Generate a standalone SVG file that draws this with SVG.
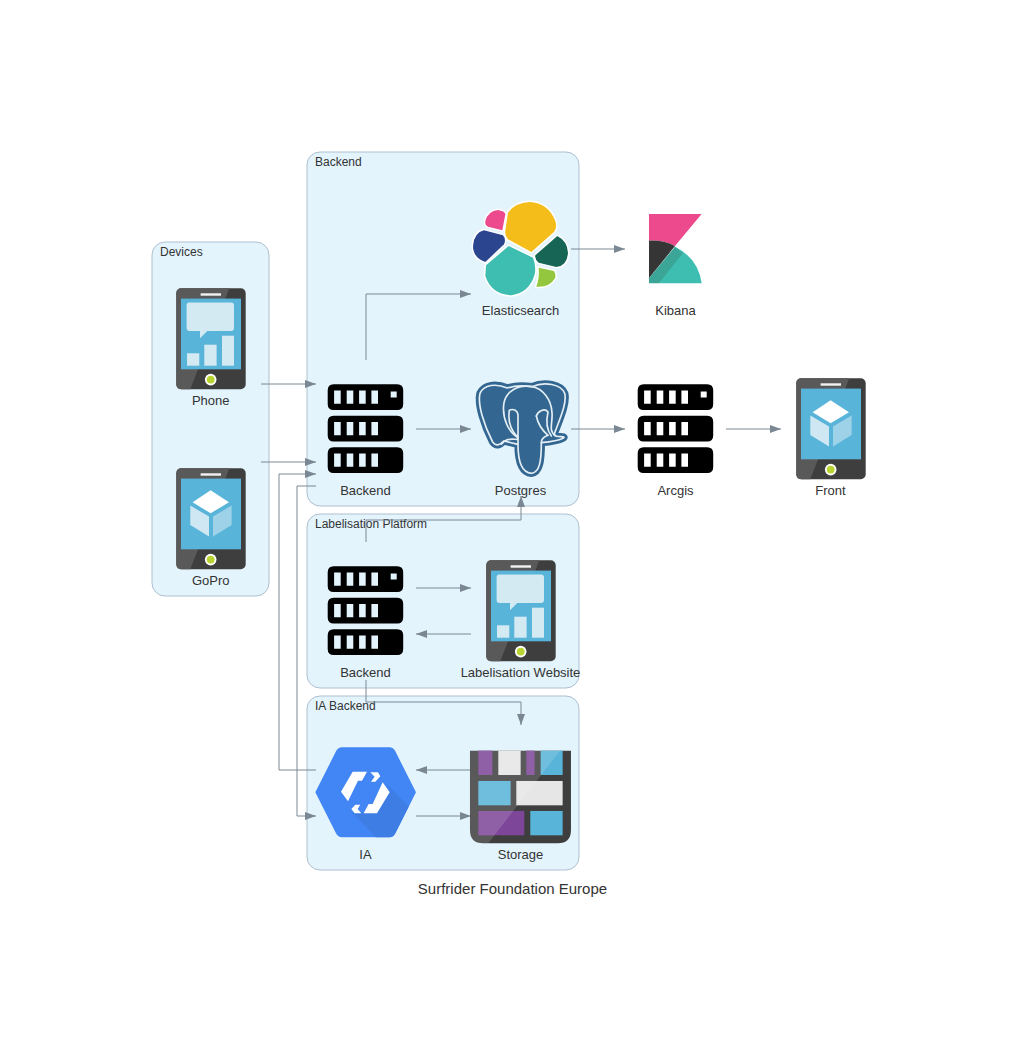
<svg xmlns="http://www.w3.org/2000/svg" width="1025" height="1045" viewBox="0 0 1025 1045">
<style>
text{font-family:"Liberation Sans",Arial,sans-serif;fill:#333}
.lbl{font-size:13px;text-anchor:middle}
.cl{font-size:12px}
.cluster{fill:#e3f4fd;stroke:#aebfcf;stroke-width:1}
.edge{fill:none;stroke:#7b8894;stroke-width:1;marker-end:url(#arrow)}
</style>
<defs>
<marker id="arrow" markerUnits="userSpaceOnUse" markerWidth="11" markerHeight="8" refX="11" refY="4" orient="auto"><path d="M0 0L11 4L0 8Z" fill="#7b8894"/></marker>
<g id="server" fill="#000" fill-rule="evenodd">
<path d="M6 0H69.5Q75.5 0 75.5 6V19.7Q75.5 25.7 69.5 25.7H6Q0 25.7 0 19.7V6Q0 0 6 0ZM6.4 6.3V19.5H13V6.3ZM19 6.3V19.5H25.6V6.3ZM31.4 6.3V19.5H38V6.3ZM43.7 6.3V19.5H50.3V6.3ZM63 7.3V13.3H69V7.3Z"/>
<path d="M6 31.5H69.5Q75.5 31.5 75.5 37.5V51.2Q75.5 57.2 69.5 57.2H6Q0 57.2 0 51.2V37.5Q0 31.5 6 31.5ZM6.4 37.8V51H13V37.8ZM19 37.8V51H25.6V37.8ZM31.4 37.8V51H38V37.8ZM43.7 37.8V51H50.3V37.8Z"/>
<path d="M6 63H69.5Q75.5 63 75.5 69V82.7Q75.5 88.7 69.5 88.7H6Q0 88.7 0 82.7V69Q0 63 6 63ZM6.4 69.3V82.5H13V69.3ZM19 69.3V82.5H25.6V69.3ZM31.4 69.3V82.5H38V69.3ZM43.7 69.3V82.5H50.3V69.3Z"/>
</g>
<g id="phone"><rect width="69.4" height="101" rx="5" fill="#3e3e3e"/><path d="M5 0H53L14 101H5Q0 101 0 96V5Q0 0 5 0Z" fill="#595959"/><rect x="4.7" y="10.3" width="60" height="70.7" fill="#59b4d9"/><rect x="24.3" y="5" width="20.4" height="2.4" fill="#f2f2f2"/><circle cx="34.4" cy="91.3" r="5.8" fill="#fff"/><circle cx="34.4" cy="91.3" r="3.9" fill="#b8d432"/></g>
<g id="chart" fill="#d4eaf3"><path d="M13 14.3H54.7Q57.7 14.3 57.7 17.3V39.7Q57.7 42.7 54.7 42.7H31L23.7 50V42.7H13.3Q10.3 42.7 10.3 39.7V17.3Q10.3 14.3 13 14.3Z"/><rect x="10.7" y="65" width="12.3" height="12.4"/><rect x="28" y="56.4" width="12.3" height="21"/><rect x="45.7" y="47.4" width="12" height="30"/></g>
<g id="cube"><path d="M16.3 34L34.3 22L52.7 34L34.3 45Z" fill="#fff"/><path d="M14 37.3L32.7 48.3V68.3L14 56.7Z" fill="#cfe7f2"/><path d="M36.7 48.3L55.3 37.3V56.7L36.7 68.3Z" fill="#9ed2e8"/></g>
</defs>

<g id="clusters">
<rect id="cluster-backend" class="cluster" x="307" y="152" width="272" height="354" rx="13"/>
<rect id="cluster-devices" class="cluster" x="152" y="242" width="117" height="354" rx="13"/>
<rect id="cluster-labelisation" class="cluster" x="307" y="514" width="272" height="174" rx="13"/>
<rect id="cluster-ia" class="cluster" x="307" y="696" width="272" height="174" rx="13"/>
<text class="cl" x="315" y="166">Backend</text>
<text class="cl" x="160" y="256">Devices</text>
<text class="cl" x="315" y="528">Labelisation Platform</text>
<text class="cl" x="315" y="710">IA Backend</text>
</g>

<g id="connectors">
<path class="edge" d="M261 384H316"/>
<path class="edge" d="M261 462H316"/>
<path class="edge" d="M316 770H279V474H316"/>
<path class="edge" d="M316 486H297V816H316"/>
<path class="edge" d="M366 360V294H471"/>
<path class="edge" d="M571 249H625"/>
<path class="edge" d="M416 429H471"/>
<path class="edge" d="M571 429H625"/>
<path class="edge" d="M726 429H781"/>
<path class="edge" d="M366 542V520H521V496"/>
<path class="edge" d="M416 588H471"/>
<path class="edge" d="M471 634H416"/>
<path class="edge" d="M366 680V702H521V725"/>
<path class="edge" d="M470 770H416"/>
<path class="edge" d="M416 816H471"/>
</g>

<g id="node-phone"><g transform="translate(176.3 288.3)"><use href="#phone"/><use href="#chart"/></g><text class="lbl" x="210.7" y="405">Phone</text></g>
<g id="node-gopro"><g transform="translate(176.3 468.3)"><use href="#phone"/><use href="#cube"/></g><text class="lbl" x="210.7" y="585">GoPro</text></g>
<g id="node-backend"><use href="#server" x="327.7" y="384.3"/><text class="lbl" x="365.5" y="495">Backend</text></g>
<g id="node-arcgis"><use href="#server" x="637.7" y="384.3"/><text class="lbl" x="675.5" y="495">Arcgis</text></g>
<g id="node-lab-backend"><use href="#server" x="327.7" y="566.3"/><text class="lbl" x="365.5" y="677">Backend</text></g>
<g id="node-front"><g transform="translate(796.3 378.3)"><use href="#phone"/><use href="#cube"/></g><text class="lbl" x="830.5" y="495">Front</text></g>
<g id="node-lab-website"><g transform="translate(486.3 560.3)"><use href="#phone"/><use href="#chart"/></g><text class="lbl" x="520.5" y="677">Labelisation Website</text></g>

<g id="node-elasticsearch"><g transform="translate(468 196) scale(.3333)" stroke="#fff" stroke-width="9" stroke-linejoin="round" paint-order="stroke">
<path d="M112 105L120 50Q140 20 185 18Q240 20 262 75Q268 95 258 108L190 168L120 130Q110 118 112 105Z" fill="#f4bd19"/>
<path d="M52 75Q60 45 90 42Q110 45 112 55L103 103L60 92Q50 88 52 75Z" fill="#ec4a8c"/>
<path d="M15 150Q18 110 48 103L105 118Q115 130 108 145L52 198Q15 185 15 150Z" fill="#2c458f"/>
<path d="M122 150L195 185Q205 210 200 235Q185 290 130 298Q70 295 52 240L54 208Z" fill="#3ebeb0"/>
<path d="M202 178L268 120Q298 135 300 170Q298 210 265 213L212 200Q200 190 202 178Z" fill="#176655"/>
<path d="M212 215L258 225Q265 235 262 245Q245 275 205 272Q215 245 212 215Z" fill="#93c73e"/>
</g><text class="lbl" x="520.5" y="315">Elasticsearch</text></g>

<g id="node-kibana"><g transform="translate(460 190) scale(.3333)">
<path d="M567 72H725L645 168Q610 150 567 152Z" fill="#ec4a8c"/>
<path d="M567 152Q610 150 645 168L567 265Z" fill="#353535"/>
<path d="M645 170Q715 205 725 280H597Z" fill="#3ebeb0"/>
<path d="M645 170L668 190L597 280H567V265Z" fill="#3ba697"/>
</g><text class="lbl" x="675.5" y="315">Kibana</text></g>

<g id="node-postgres"><g transform="translate(468 376) scale(.3333)" stroke-linejoin="round" stroke-linecap="round">
<path d="M118 36C85 22 48 25 36 52C28 85 48 148 74 198C84 212 95 208 107 195L150 205C150 255 160 290 190 292C215 290 220 255 220 200C250 198 285 190 288 184C285 180 265 185 258 176C275 130 298 80 290 52C280 25 230 15 192 32C165 28 140 28 118 36Z" fill="#336791" stroke="#336791" stroke-width="22"/>
<path d="M118 36C85 22 48 25 36 52C28 85 48 148 74 198C84 212 95 208 107 195L150 205C150 255 160 290 190 292C215 290 220 255 220 200C250 198 285 190 288 184C285 180 265 185 258 176C275 130 298 80 290 52C280 25 230 15 192 32C165 28 140 28 118 36Z" fill="#336791" stroke="#e3eef5" stroke-width="5"/>
<g fill="none" stroke="#e3eef5" stroke-width="5">
<path d="M150 185C125 170 100 130 108 80C115 45 150 25 192 32C225 38 250 70 252 110C255 140 240 165 262 178"/>
<path d="M150 205V115C148 103 135 97 124 103C120 130 125 160 150 185"/>
<path d="M100 205C115 185 130 190 150 190"/>
<path d="M205 120C210 105 230 95 240 108C235 130 235 160 250 180"/>
<path d="M205 120C210 145 225 165 240 178"/>
<path d="M220 200C220 190 228 182 240 178"/>
</g></g><text class="lbl" x="520.5" y="495">Postgres</text></g>

<g id="node-ia"><g transform="translate(312 744) scale(.3333)">
<path d="M10 145L72 22Q78 10 90 10H232Q244 10 250 22L312 145L250 268Q244 280 232 280H90Q78 280 72 268Z" fill="#4285f4"/>
<path d="M222 118L290 188L250 268Q244 280 232 280H192L120 205H170L235 145Z" fill="#3d7de4"/>
<g fill="#fff"><path d="M87 143L122 83H165L150 110H138L108 172Z"/><path d="M175 85H198L205 97L190 113H177L188 98Z"/><path d="M233 145L195 208H155L170 180H182L212 115Z"/><path d="M118 195L130 182H145L137 195L148 208H128Z"/></g>
</g><text class="lbl" x="365.5" y="859">IA</text></g>

<g id="node-storage"><g transform="translate(270 680) scale(.3333)">
<path d="M600 212H903V450Q903 490 863 490H640Q600 490 600 450Z" fill="#3e3e3e"/>
<g fill="#7d4698"><rect x="625" y="212" width="42" height="73"/><rect x="769" y="212" width="25" height="73"/><rect x="625" y="393" width="138" height="73"/></g>
<g fill="#e6e6e6"><rect x="685" y="212" width="67" height="73"/><rect x="739" y="303" width="139" height="73"/></g>
<g fill="#59b4d9"><rect x="812" y="212" width="66" height="73"/><rect x="625" y="303" width="97" height="73"/><rect x="781" y="393" width="97" height="73"/></g>
<path d="M600 212H870L655 490H640Q600 490 600 450Z" fill="#fff" fill-opacity=".14"/>
</g><text class="lbl" x="520.5" y="859">Storage</text></g>

<text id="title" x="512.5" y="894" text-anchor="middle" font-size="15px">Surfrider Foundation Europe</text>
</svg>
